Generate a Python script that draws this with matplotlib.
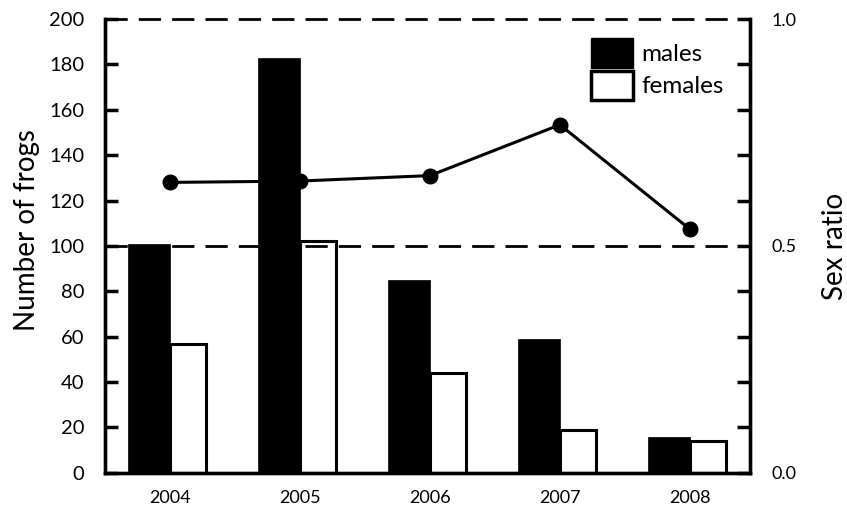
import matplotlib.pyplot as plt
import numpy as np
from matplotlib.patches import Patch

plt.rcParams['font.family'] = ['Lato', 'DejaVu Sans']

years = ["2004", "2005", "2006", "2007", "2008"]
males = [101, 183, 85, 59, 16]
females = [57, 102, 44, 19, 14]
sex_ratio = [0.64, 0.643, 0.655, 0.767, 0.537]

x = np.arange(len(years))

fig = plt.figure(figsize=(8.47, 5.14), dpi=100)
ax = fig.add_axes([0.124, 0.080, 0.761, 0.883])
ax2 = ax.twinx()
# line goes behind the bars
ax2.set_zorder(ax.get_zorder() - 1)
ax.patch.set_visible(False)

ax.bar(x - 0.16, males, width=0.32, color="black", edgecolor="black", linewidth=0.5, zorder=3)
ax.bar(x + 0.14, females, width=0.28, facecolor="none", edgecolor="black", linewidth=2.2, zorder=1)
dash = (0, (8, 4))
ax.axhline(100, color="black", lw=2, ls=dash, zorder=2)
ax.axhline(200, color="black", lw=2, ls=dash, zorder=2, clip_on=False)

ax2.plot(x, sex_ratio, color="black", lw=2.2, marker="o", ms=10.5)

ax.set_xlim(-0.5, 4.46)
ax.set_ylim(0, 200)
ax2.set_ylim(0, 1.0)

ax.set_xticks(x, years)
ax.set_yticks(range(0, 201, 20))
ax.tick_params(axis="y", direction="in", length=9.5, width=2.5, pad=15, labelsize=14.5)
ax.tick_params(axis="x", length=0, pad=12, labelsize=13)

ax2.set_yticks([0.0, 0.5, 1.0], ["0.0", "0.5", "1.0"])
ax2.set_yticks(np.arange(0.1, 1.0, 0.1), minor=True)
ax2.tick_params(axis="y", which="both", direction="in", length=9.5, width=2.5, pad=16, labelsize=13)

for a in (ax, ax2):
    a.spines["top"].set_visible(False)
    for s in ("left", "right", "bottom"):
        a.spines[s].set_linewidth(2.4)

ax.set_ylabel("Number of frogs", fontsize=20)
ax.yaxis.set_label_coords(-0.101, 0.534)
ax2.set_ylabel("Sex ratio", fontsize=20)
ax2.yaxis.set_label_coords(1.113, 0.499)

handles = [Patch(facecolor="black", edgecolor="black"),
           Patch(facecolor="white", edgecolor="black", linewidth=2.5)]
ax.legend(handles, ["males", "females"], loc="upper right", bbox_to_anchor=(0.96, 0.958),
          frameon=False, fontsize=17.5, handlelength=1.73, handleheight=1.5,
          handletextpad=0.33, labelspacing=0.12, borderaxespad=0, borderpad=0)

fig.savefig("out.png", dpi=100)
